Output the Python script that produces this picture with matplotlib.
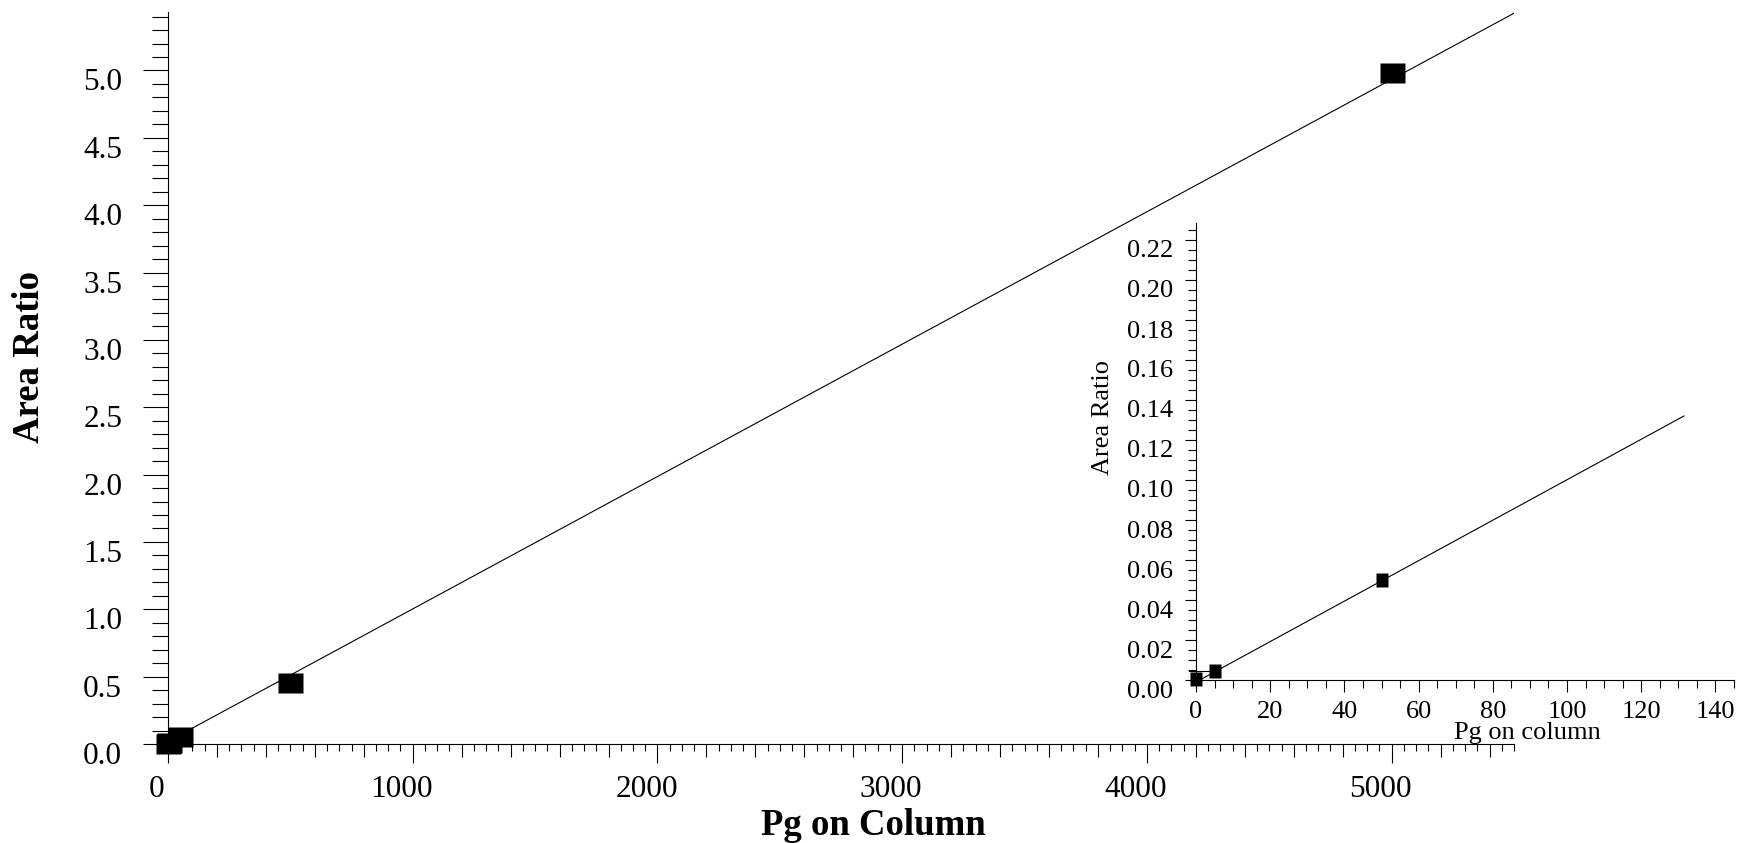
import numpy as np
import matplotlib
matplotlib.use('Agg')
import matplotlib.pyplot as plt
from matplotlib.transforms import ScaledTranslation

plt.rcParams['font.family'] = ['Liberation Serif', 'DejaVu Serif']

# calibration points (pg on column, area ratio)
pg = np.array([0, 5, 50, 500, 5000])
area_ratio = np.array([0.0005, 0.0047, 0.050, 0.45, 4.98])

# fitted line end points
main_fit_x = [0, 5500]
main_fit_y = [0.02, 5.425]
inset_fit_x = [1.5, 131.5]
inset_fit_y = [0.0005, 0.132]

main_xticks = [0, 1000, 2000, 3000, 4000, 5000]
main_yticks = [0.0, 0.5, 1.0, 1.5, 2.0, 2.5, 3.0, 3.5, 4.0, 4.5, 5.0]
inset_xticks = [0, 20, 40, 60, 80, 100, 120, 140]
inset_yticks = [0.00, 0.02, 0.04, 0.06, 0.08, 0.10, 0.12, 0.14, 0.16, 0.18, 0.20, 0.22]

W, H = 1739, 843
fig = plt.figure(figsize=(W / 100, H / 100), dpi=100)

big_box = [(-1, -0.8), (1, -0.8), (1, 0.8), (-1, 0.8)]
small_box = [(-0.85, -1), (0.85, -1), (0.85, 1), (-0.85, 1)]

# ---- main axes ----
ax = fig.add_axes([168 / W, 1 - 744 / H, (1514 - 168) / W, (744 - 12) / H])
ax.plot(main_fit_x, main_fit_y, color='black', lw=0.8)
ax.plot(pg, area_ratio, ls='none', marker=big_box, ms=18, mfc='black', mec='none',
        clip_on=False, zorder=3)
ax.set_xlim(0, 5500)
ax.set_ylim(0, 5.434)
for s in ['top', 'right']:
    ax.spines[s].set_visible(False)
for s in ['left', 'bottom']:
    ax.spines[s].set_linewidth(0.8)

ax.set_xticks(main_xticks)
ax.set_xticklabels([str(v) for v in main_xticks])
ax.set_xticks(np.arange(50, 5501, 50), minor=True)
ax.set_yticks(main_yticks)
ax.set_yticklabels(['%.1f' % v for v in main_yticks])
ax.set_yticks(np.arange(0.1, 5.43, 0.1), minor=True)
ax.tick_params(axis='x', which='major', direction='out', length=13.7, width=0.8,
               pad=8.6, labelsize=22.5)
ax.tick_params(axis='x', which='minor', direction='out', length=4.7, width=0.8)
ax.tick_params(axis='y', which='major', direction='out', length=18, width=0.8,
               pad=15, labelsize=22.5)
ax.tick_params(axis='y', which='minor', direction='out', length=11.5, width=0.8)

# ---- inset axes ----
axi = fig.add_axes([1196 / W, 1 - 680 / H, (1734 - 1196) / W, (680 - 223) / H])
axi.patch.set_alpha(0)
m = pg <= 145
axi.plot(inset_fit_x, inset_fit_y, color='black', lw=0.8)
axi.plot(pg[m], area_ratio[m], ls='none', marker=small_box, ms=9.4, mfc='black',
         mec='none', clip_on=False, zorder=3)
axi.plot([-2, pg[1]], [area_ratio[1], area_ratio[1]], color='black', lw=0.8,
         clip_on=False)
axi.set_xlim(0, 145)
axi.set_ylim(0, 0.2285)
for s in ['top', 'right']:
    axi.spines[s].set_visible(False)
for s in ['left', 'bottom']:
    axi.spines[s].set_linewidth(0.8)
axi.set_xticks(inset_xticks)
axi.set_xticklabels([str(v) for v in inset_xticks])
axi.set_xticks(np.arange(5, 146, 5), minor=True)
axi.set_yticks(inset_yticks)
axi.set_yticklabels(['%.2f' % v for v in inset_yticks])
axi.set_yticks(np.arange(0.005, 0.2286, 0.005), minor=True)
axi.tick_params(axis='x', which='major', direction='out', length=8.6, width=0.8,
                pad=6.5, labelsize=19)
axi.tick_params(axis='x', which='minor', direction='out', length=5.4, width=0.8)
axi.tick_params(axis='y', which='major', direction='out', length=7.9, width=0.8,
                pad=8.6, labelsize=19)
axi.tick_params(axis='y', which='minor', direction='out', length=5.8, width=0.8)

# axis titles
fig.text(29.5 / W, 1 - 357 / H, 'Area Ratio', rotation=90, ha='center', va='center',
         fontsize=26.5, fontweight='bold')
fig.text(873 / W, 1 - 835 / H, 'Pg on Column', ha='center', va='baseline',
         fontsize=26.5, fontweight='bold')
fig.text(1103 / W, 1 - 418 / H, 'Area Ratio', rotation=90, ha='center', va='center',
         fontsize=19)
fig.text(1527 / W, 1 - 739 / H, 'Pg on column', ha='center', va='baseline',
         fontsize=19)

fig.canvas.draw()

# medium ticks every 200 on the main x axis
locs = ax.xaxis.get_minorticklocs()
for loc, t in zip(locs, ax.xaxis.get_minor_ticks(len(locs))):
    if round(loc) % 200 == 0:
        t.tick1line.set_markersize(9.4)

# the tick labels sit a bit off their ticks in the original
def shift(labels, dx, dy):
    off = ScaledTranslation(dx / 100, dy / 100, fig.dpi_scale_trans)
    for lbl in labels:
        lbl.set_transform(lbl.get_transform() + off)

shift(ax.get_xticklabels(), -11, 0)
shift(ax.get_yticklabels(), 0, -9)
shift(axi.get_yticklabels(), 0, -9)

fig.savefig('out.png', dpi=100)
